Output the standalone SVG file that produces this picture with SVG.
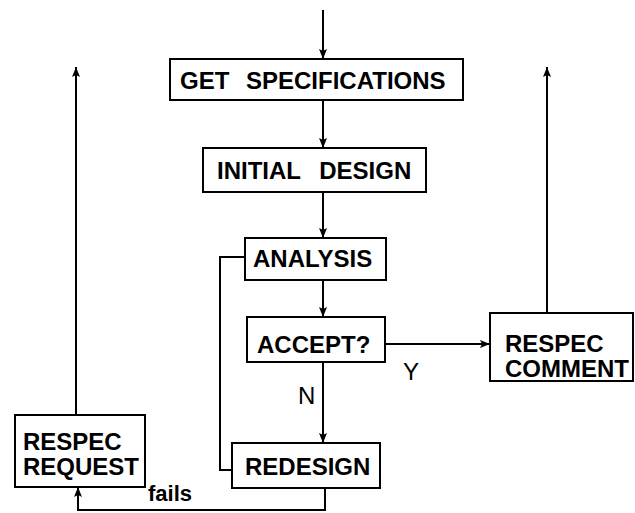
<svg xmlns="http://www.w3.org/2000/svg" width="635" height="513" viewBox="0 0 635 513">
<style>
.box{fill:#fff;stroke:#000;stroke-width:2}
.lbl{font-family:"Liberation Sans",Arial,sans-serif;font-weight:bold;font-size:24px;fill:#000}
.sm{font-family:"Liberation Sans",Arial,sans-serif;font-size:24px;fill:#000}
.fl{font-family:"Liberation Sans",Arial,sans-serif;font-weight:bold;font-size:22px;fill:#000}
.ln{fill:none;stroke:#000;stroke-width:2}
</style>
<defs>
<marker id="ah" viewBox="0 0 10 8" refX="10" refY="4" markerWidth="10" markerHeight="8" markerUnits="userSpaceOnUse" orient="auto">
<path d="M0,0 L10,4 L0,8 L2,4 Z" fill="#000"/>
</marker>
</defs>
<rect width="635" height="513" fill="#fff"/>
<g id="connectors">
<path class="ln" d="M323,10 V59" marker-end="url(#ah)"/>
<path class="ln" d="M323,100 V148" marker-end="url(#ah)"/>
<path class="ln" d="M323,192 V238" marker-end="url(#ah)"/>
<path class="ln" d="M323,280 V317" marker-end="url(#ah)"/>
<path class="ln" d="M323,362 V443" marker-end="url(#ah)"/>
<path class="ln" d="M385,344 H490" marker-end="url(#ah)"/>
<path class="ln" d="M547,313 V67" marker-end="url(#ah)"/>
<path class="ln" d="M245,257 H220 V470 H232"/>
<path class="ln" d="M325,488 V510 H78 V487" marker-end="url(#ah)"/>
<path class="ln" d="M76,415 V67" marker-end="url(#ah)"/>
<text class="sm" x="403" y="380">Y</text>
<text class="sm" x="298" y="404">N</text>
<text class="fl" x="148" y="501">fails</text>
</g>
<g id="get-specifications">
<rect class="box" x="170" y="59" width="293" height="41"/>
<text class="lbl" x="180" y="89" word-spacing="10">GET SPECIFICATIONS</text>
</g>
<g id="initial-design">
<rect class="box" x="203" y="148" width="223" height="44"/>
<text class="lbl" x="217" y="179" word-spacing="12">INITIAL DESIGN</text>
</g>
<g id="analysis">
<rect class="box" x="245" y="238" width="141" height="42"/>
<text class="lbl" x="253" y="267">ANALYSIS</text>
</g>
<g id="accept">
<rect class="box" x="247" y="317" width="138" height="45"/>
<text class="lbl" x="257" y="353">ACCEPT?</text>
</g>
<g id="redesign">
<rect class="box" x="232" y="443" width="148" height="45"/>
<text class="lbl" x="245" y="475">REDESIGN</text>
</g>
<g id="respec-request">
<rect class="box" x="15" y="415" width="130" height="72"/>
<text class="lbl" x="23" y="450">RESPEC</text>
<text class="lbl" x="23" y="475">REQUEST</text>
</g>
<g id="respec-comment">
<rect class="box" x="490" y="313" width="143" height="68"/>
<text class="lbl" x="505" y="352">RESPEC</text>
<text class="lbl" x="505" y="377">COMMENT</text>
</g>
</svg>
